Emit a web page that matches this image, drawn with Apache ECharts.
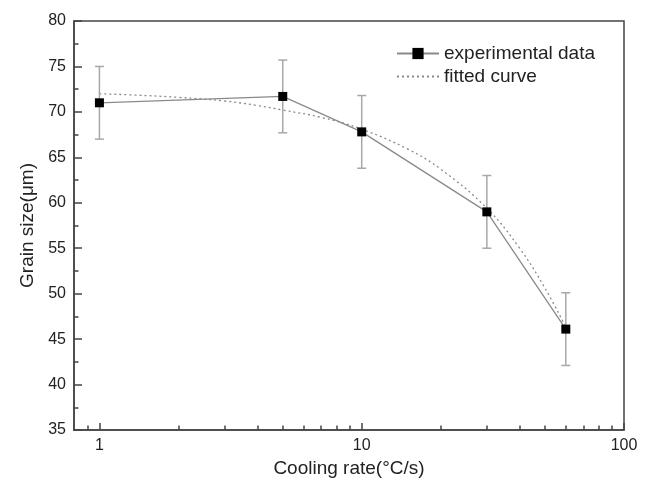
<!DOCTYPE html>
<html>
<head>
<meta charset="utf-8">
<script src="https://cdn.jsdelivr.net/npm/echarts@6/dist/echarts.min.js"></script>
<style>html,body{margin:0;padding:0;background:#fff}#c{width:646px;height:484px}</style>
</head>
<body>
<div id="c"></div>
<script>
var coolingRate = [1, 5, 10, 30, 60];
var grainSize = [71.0, 71.7, 67.8, 59.0, 46.1];
var errLow = [67.0, 67.7, 63.8, 55.0, 42.1];
var errHigh = [75.0, 75.7, 71.8, 63.0, 50.1];
// Fitted curve, points
var fitX = [1, 1.5, 2, 3, 4, 5, 7, 10, 15, 20, 30, 40, 50, 60];
var fitY = [72.0, 71.8, 71.6, 71.2, 70.7, 70.2, 69.4, 68.1, 65.9, 63.7, 59.4, 55.0, 50.6, 46.3];
// Axis ticks
var xMajorTicks = [1, 10, 100];
var xMinorTicks = [0.9, 2, 3, 4, 5, 6, 7, 8, 9, 20, 30, 40, 50, 60, 70, 80, 90];

var expData = coolingRate.map(function (x, i) { return [x, grainSize[i]]; });
var errData = coolingRate.map(function (x, i) { return [x, errLow[i], errHigh[i]]; });
var fitData = fitX.map(function (x, i) { return [x, fitY[i]]; });

var axisColor = '#444';
var textColor = '#222';
var font = 'Liberation Sans, Arial, sans-serif';

var chart = echarts.init(document.getElementById('c'));
chart.setOption({
  animation: false,
  backgroundColor: '#fff',
  grid: { left: 74, right: 22, top: 21, bottom: 54, show: true, borderColor: axisColor, borderWidth: 1.5 },
  legend: {
    orient: 'vertical', left: 396, top: 44, padding: 0,
    itemWidth: 42, itemHeight: 14, itemGap: 4,
    textStyle: { fontSize: 19, color: textColor, fontFamily: font },
    data: [{ name: 'experimental data' },
           { name: 'fitted curve', itemStyle: { color: 'rgba(0,0,0,0)', borderWidth: 0, opacity: 0 } }]
  },
  xAxis: [{
    type: 'log', logBase: 10, min: 0.8, max: 100, position: 'bottom',
    name: 'Cooling rate(°C/s)', nameLocation: 'middle', nameGap: 27,
    nameTextStyle: { fontSize: 19, color: textColor, fontFamily: font },
    axisLine: { lineStyle: { color: axisColor, width: 1.5 } },
    axisTick: { inside: true, length: 7, customValues: xMajorTicks, lineStyle: { color: axisColor, width: 1.5 } },
    axisLabel: { customValues: xMajorTicks, fontSize: 16, color: textColor, fontFamily: font, margin: 8 },
    splitLine: { show: false }, minorTick: { show: false }, minorSplitLine: { show: false }
  }, {
    type: 'log', logBase: 10, min: 0.8, max: 100, position: 'bottom',
    axisLine: { show: false },
    axisTick: { inside: true, length: 4.5, customValues: xMinorTicks, lineStyle: { color: axisColor, width: 1.5 } },
    axisLabel: { show: false },
    splitLine: { show: false }
  }],
  yAxis: {
    type: 'value', min: 35, max: 80, interval: 5,
    name: 'Grain size(μm)', nameLocation: 'middle', nameGap: 36,
    nameTextStyle: { fontSize: 19, color: textColor, fontFamily: font },
    axisLine: { show: true, lineStyle: { color: axisColor, width: 1.5 } },
    axisTick: { inside: true, length: 8, lineStyle: { color: axisColor, width: 1.5 } },
    minorTick: { show: true, splitNumber: 2, length: 4.5, lineStyle: { color: axisColor, width: 1.5 } },
    axisLabel: { fontSize: 16, color: textColor, fontFamily: font, margin: 8 },
    splitLine: { show: false }
  },
  series: [{
    name: 'fitted curve', type: 'line', xAxisIndex: 0, data: fitData, smooth: 0.4,
    symbol: 'none', lineStyle: { color: '#8a8a8a', width: 1.3, type: [2, 3] },
    itemStyle: { color: '#8a8a8a' }, z: 2
  }, {
    name: 'errorbars', type: 'custom', xAxisIndex: 0, data: errData, z: 3,
    renderItem: function (params, api) {
      var x = api.value(0);
      var lo = api.coord([x, api.value(1)]);
      var hi = api.coord([x, api.value(2)]);
      var hw = 4.5;
      var st = { stroke: '#a8a8a8', lineWidth: 1.5 };
      return { type: 'group', children: [
        { type: 'line', shape: { x1: lo[0], y1: lo[1], x2: hi[0], y2: hi[1] }, style: st },
        { type: 'line', shape: { x1: lo[0] - hw, y1: lo[1], x2: lo[0] + hw, y2: lo[1] }, style: st },
        { type: 'line', shape: { x1: hi[0] - hw, y1: hi[1], x2: hi[0] + hw, y2: hi[1] }, style: st }
      ] };
    }
  }, {
    name: 'experimental data', type: 'line', xAxisIndex: 0, data: expData, z: 4,
    symbol: 'rect', symbolSize: 9, showAllSymbol: true,
    lineStyle: { color: '#8a8a8a', width: 1.3 },
    itemStyle: { color: '#000' }
  }]
});
</script>
</body>
</html>
